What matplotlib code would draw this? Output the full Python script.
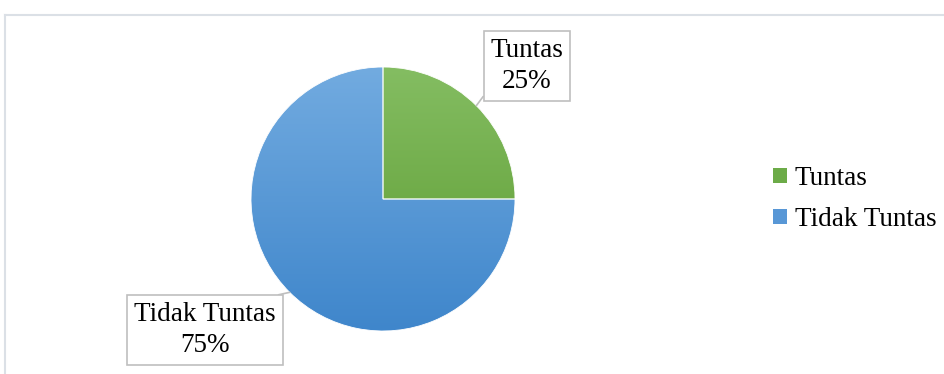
import numpy as np
import matplotlib
matplotlib.use("Agg")
import matplotlib.pyplot as plt
from matplotlib.colors import LinearSegmentedColormap
from matplotlib.patches import Patch

plt.rcParams['font.family'] = ['Liberation Serif', 'DejaVu Serif']

labels = ["Tuntas", "Tidak Tuntas"]
values = [25, 75]
top_colors = ["#84bd62", "#72abe0"]
bottom_colors = ["#5b9a2f", "#3f86cb"]
label_pos = [(527, 308), (205, 44)]
label_relpos = [(0.0, 0.13), (0.78, 1.0)]

W, H = 945, 374
fig = plt.figure(figsize=(W / 100, H / 100), dpi=100)
ax = fig.add_axes([0, 0, 1, 1])

cx, cy, r = 383, 175, 132
wedges, _ = ax.pie(values, startangle=90, counterclock=False, center=(cx, cy),
                   radius=r, frame=True,
                   wedgeprops=dict(edgecolor="white", linewidth=0.6))
ax.set_xlim(0, W)
ax.set_ylim(0, H)
ax.set_aspect("auto")
ax.axis("off")

grad = np.linspace(0, 1, 256).reshape(-1, 1)
for w, c0, c1 in zip(wedges, top_colors, bottom_colors):
    cmap = LinearSegmentedColormap.from_list("g", [c1, c0])
    w.set_facecolor("none")
    im = ax.imshow(grad, cmap=cmap, extent=(cx - r, cx + r, cy - r, cy + r),
                   origin="lower", aspect="auto", zorder=0.5)
    im.set_clip_path(w)

# data labels with leader lines
for w, lab, v, pos, rp in zip(wedges, labels, values, label_pos, label_relpos):
    ang = np.deg2rad((w.theta1 + w.theta2) / 2)
    px, py = cx + r * np.cos(ang), cy + r * np.sin(ang)
    ax.annotate(f"{lab}\n{v}%", xy=(px, py), xytext=pos, ha="center", va="center",
                fontsize=19.5, linespacing=1.3, zorder=5,
                bbox=dict(boxstyle="square,pad=0.25", fc="white", ec="#bfbfbf", lw=1.2),
                arrowprops=dict(arrowstyle="-", color="#bfbfbf", lw=1.2,
                                shrinkA=0, shrinkB=0, relpos=rp))

handles = [Patch(facecolor=c, edgecolor="none") for c in ["#6cab48", "#5897d6"]]
fig.legend(handles, labels, loc="center left", bbox_to_anchor=(773 / W, 1 - 199 / H),
           frameon=False, fontsize=19.5, handlelength=0.5, handleheight=0.5,
           handletextpad=0.3, labelspacing=0.58, borderpad=0, borderaxespad=0)

# outer frame (partially visible)
fig.add_artist(plt.Line2D([4.5 / W, 1], [1 - 14.5 / H, 1 - 14.5 / H], color="#dbe0e6", lw=1.5))
fig.add_artist(plt.Line2D([4.5 / W, 4.5 / W], [0, 1 - 14.5 / H], color="#dbe0e6", lw=1.5))

fig.savefig("out.png", dpi=100)
